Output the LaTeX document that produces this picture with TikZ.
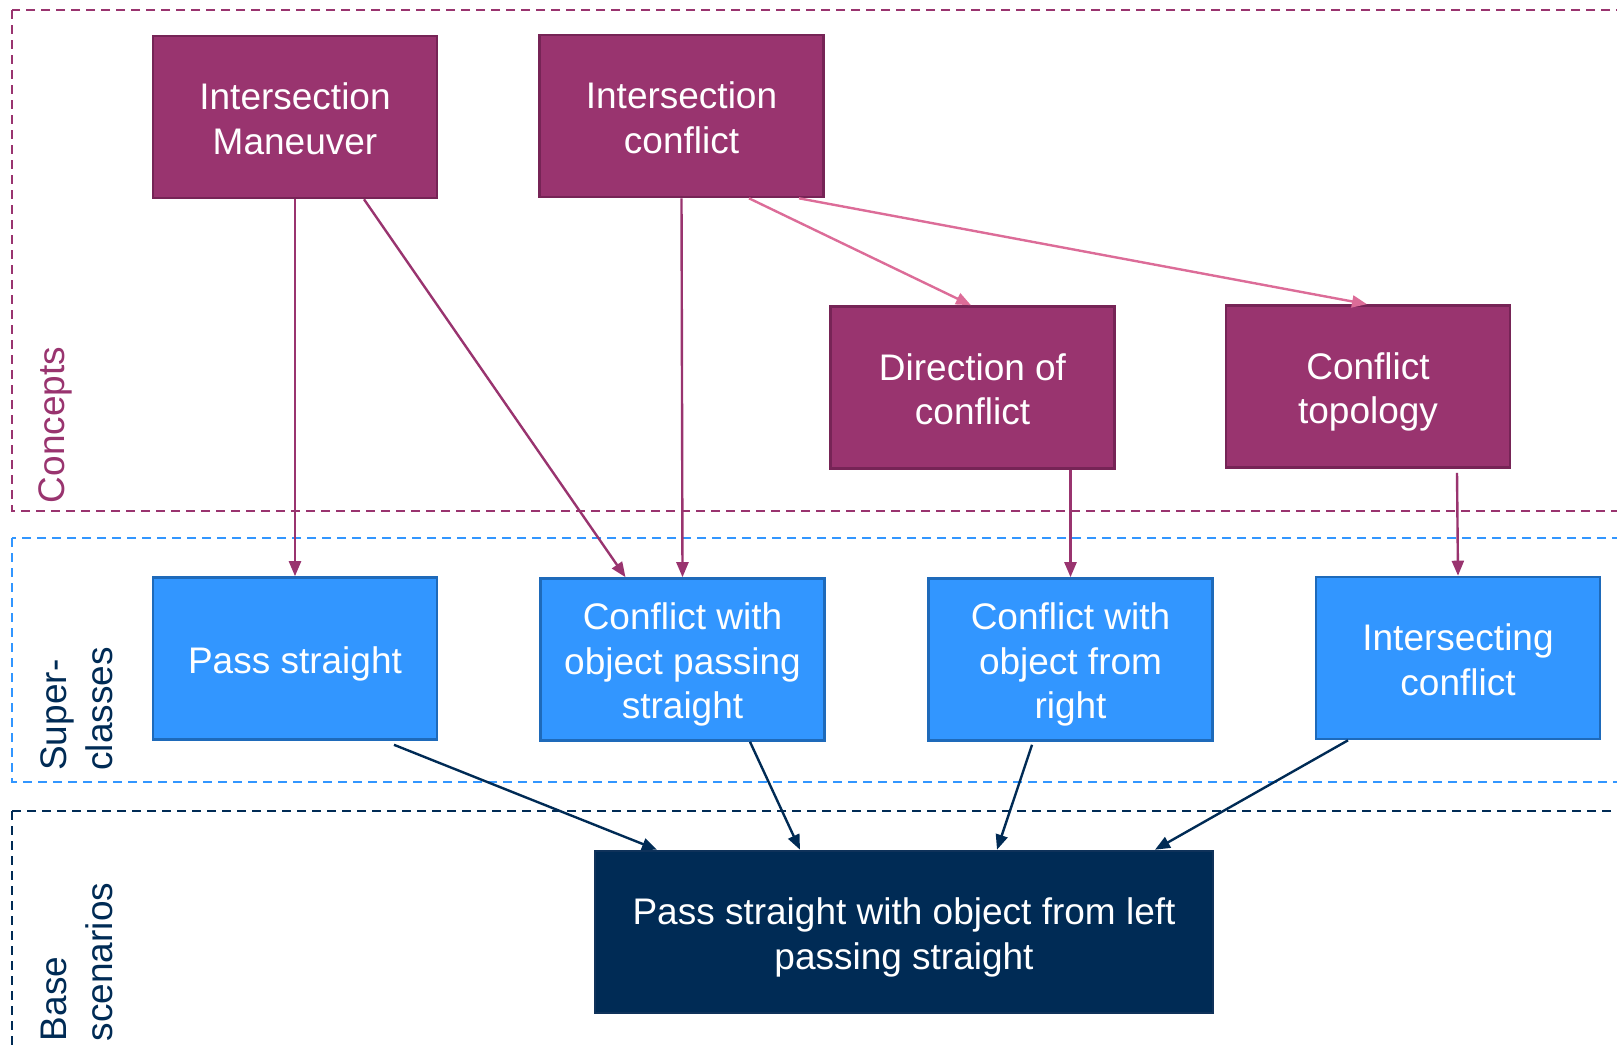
\documentclass[tikz,border=0pt]{standalone}
\usepackage{fontspec}
\setmainfont{Liberation Sans}
\usetikzlibrary{arrows.meta}

\definecolor{concept}{RGB}{153,52,111}
\definecolor{conceptline}{RGB}{118,36,86}
\definecolor{pinkarrow}{RGB}{220,108,152}
\definecolor{superfill}{RGB}{50,150,255}
\definecolor{superline}{RGB}{30,106,186}
\definecolor{navy}{RGB}{0,43,85}
\definecolor{navyline}{RGB}{15,50,90}

% box text: lines centred, set a little low inside the box
\newcommand\boxlines[1]{\raisebox{-6pt}[\height][\depth]{\begin{tabular}{@{}c@{}}#1\end{tabular}}}

\tikzset{
  boxtext/.style={font=\fontsize{37}{44.5}\selectfont, text=white,
    minimum width=284pt, minimum height=162pt, inner sep=0pt, line width=2.6pt},
  conceptbox/.style={boxtext, fill=concept, draw=conceptline},
  superbox/.style={boxtext, fill=superfill, draw=superline},
  basebox/.style={boxtext, fill=navy, draw=navyline, minimum width=618pt},
  layer/.style={dashed, dash pattern=on 9pt off 6pt, line width=2.8pt},
  layerlabel/.style={font=\fontsize{37}{46}\selectfont, rotate=90, align=left, inner sep=0pt},
  link/.style={line width=2.4pt, -{Triangle[length=15pt,width=12pt]}},
}

\begin{document}
\begin{tikzpicture}[x=1pt,y=-1pt]
  \useasboundingbox (0,0) rectangle (1617,1050);
  \clip (0,0) rectangle (1617,1050);

  % layer frames
  \draw[layer, draw=concept] (12,10) rectangle (1660,511);
  \draw[layer, draw=superfill] (12,538) rectangle (1660,782);
  \draw[layer, draw=navy] (12,811) rectangle (1660,1080);

  % layer labels
  \node[layerlabel, text=concept] (lconcepts) at (55,425) {Concepts};
  \node[layerlabel, text=navy] (lsuper) at (77,709) {Super-\\classes};
  \node[layerlabel, text=navy] (lbase) at (77,962) {Base\\scenarios};

  % concepts
  \node[conceptbox] (im) at (295,117) {\boxlines{Intersection\\Maneuver}};
  \node[conceptbox] (ic) at (681.5,116) {\boxlines{Intersection\\conflict}};
  \node[conceptbox] (doc) at (972.5,387.5) {\boxlines{Direction of\\conflict}};
  \node[conceptbox] (ct) at (1368,386.5) {\boxlines{Conflict\\topology}};

  % super-classes
  \node[superbox] (ps) at (295,658.5) {\boxlines{Pass straight}};
  \node[superbox] (cps) at (682.5,659.5) {\boxlines{Conflict with\\object passing\\straight}};
  \node[superbox] (cfr) at (1070.5,659.5) {\boxlines{Conflict with\\object from\\right}};
  \node[superbox] (intc) at (1458,658) {\boxlines{Intersecting\\conflict}};

  % base scenario
  \node[basebox] (base) at (904,932) {\boxlines{Pass straight with object from left\\passing straight}};

  % concept links
  \draw[link, draw=concept, fill=concept] (im.south) -- (ps.north);
  \draw[link, draw=concept, fill=concept] ([xshift=69pt]im.south) -- ([xshift=-57pt]cps.north);
  \draw[link, draw=concept, fill=concept] (ic.south) -- (cps.north);
  \draw[link, draw=pinkarrow, fill=pinkarrow] ([xshift=67.5pt]ic.south) -- ([xshift=-1.5pt]doc.north);
  \draw[link, draw=pinkarrow, fill=pinkarrow] ([xshift=117.5pt]ic.south) -- ([xshift=-1pt]ct.north);
  \draw[link, draw=concept, fill=concept] ([xshift=98pt]doc.south) -- (cfr.north);
  \draw[link, draw=concept, fill=concept] ([xshift=89pt,yshift=-4pt]ct.south) -- (intc.north);

  % super-class links
  \draw[link, draw=navy, fill=navy] ([xshift=99pt,yshift=-4pt]ps.south) -- ([xshift=-247pt]base.north);
  \draw[link, draw=navy, fill=navy] ([xshift=67.5pt]cps.south) -- ([xshift=-104pt]base.north);
  \draw[link, draw=navy, fill=navy] ([xshift=-38.5pt,yshift=-3pt]cfr.south) -- ([xshift=93pt]base.north);
  \draw[link, draw=navy, fill=navy] ([xshift=-110pt]intc.south) -- ([xshift=251pt]base.north);
\end{tikzpicture}
\end{document}
